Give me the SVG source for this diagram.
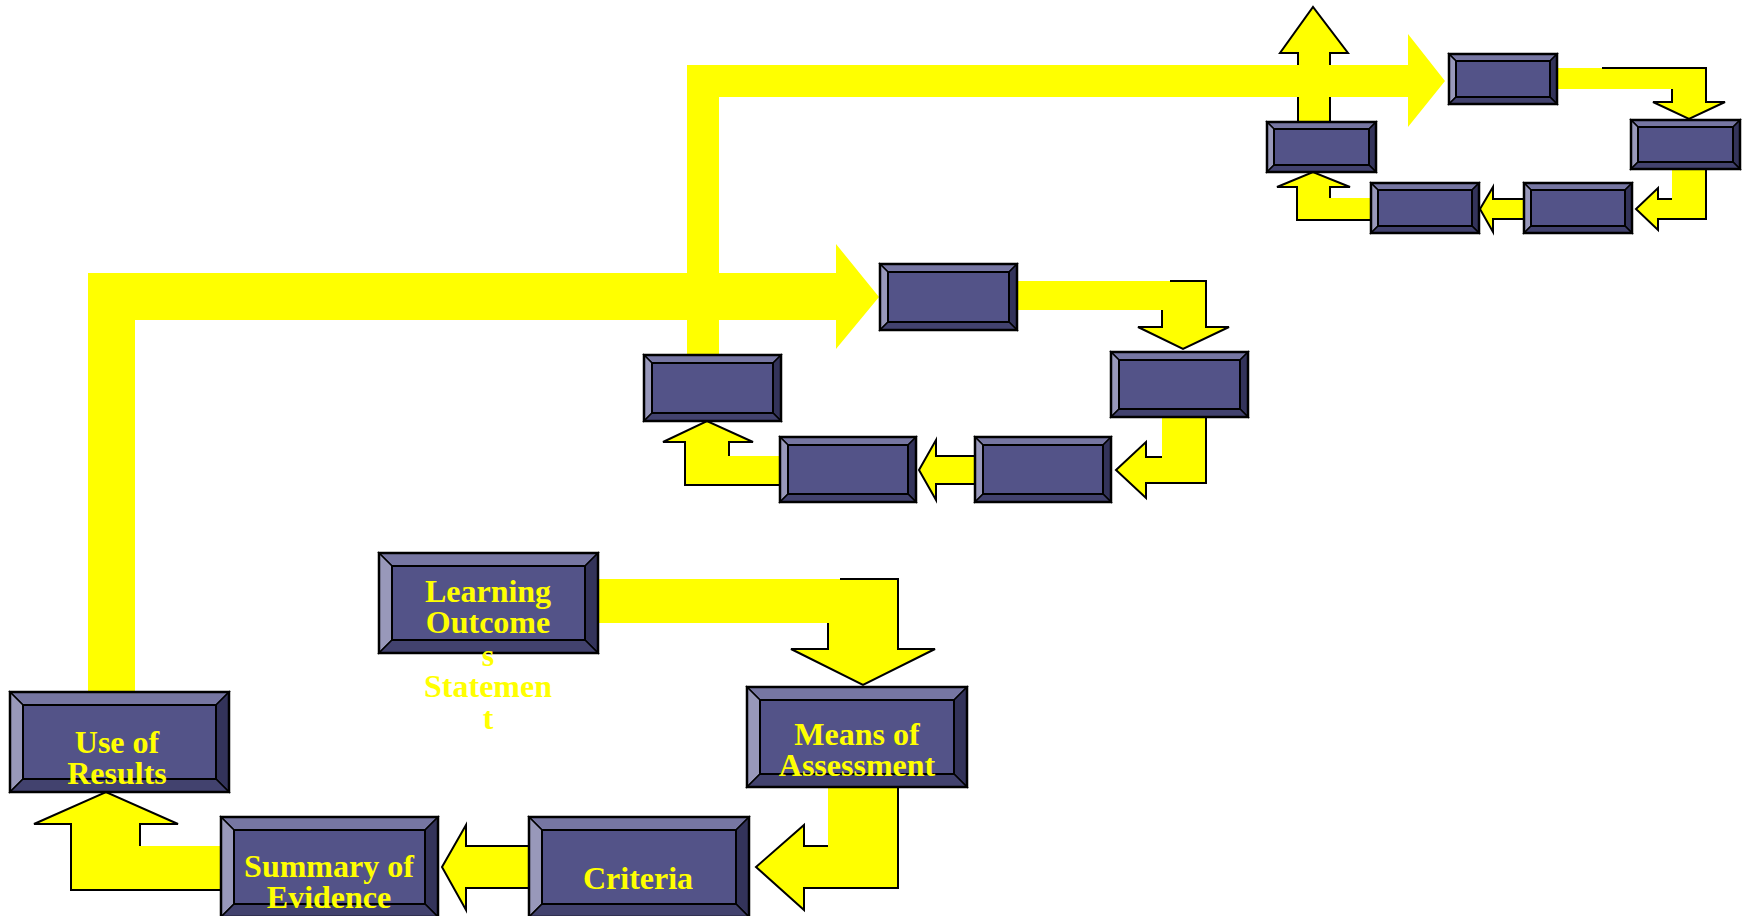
<svg xmlns="http://www.w3.org/2000/svg" width="1747" height="916" viewBox="0 0 1747 916">
<style>
.y{fill:#FFFF00;stroke:none}
.o{fill:none;stroke:#000;stroke-width:2;stroke-linejoin:miter}
.bt{fill:#7676A2;stroke:#000;stroke-width:1.5}
.bl{fill:#9898BA;stroke:#000;stroke-width:1.5}
.br{fill:#33335A;stroke:#000;stroke-width:1.5}
.bb{fill:#42426E;stroke:#000;stroke-width:1.5}
.bc{fill:#535388;stroke:#000;stroke-width:2}
.fr{fill:none;stroke:#000;stroke-width:2.5}
.t{font-family:"Liberation Serif","Times New Roman",serif;font-weight:bold;font-size:32px;fill:#FFFF00;text-anchor:middle}
</style>
<rect width="1747" height="916" fill="#fff"/>
<g id="connectors">
  <polygon class="y" points="1298,122 1298,53 1280,53 1313,7 1348,53 1330,53 1330,122"/>
  <polyline class="o" points="1298,122 1298,53 1280,53 1313,7 1348,53 1330,53 1330,122"/>
  <polygon class="y" points="1557,68 1706,68 1706,102 1725,102 1689,119 1653,102 1672,102 1672,89 1557,89"/>
  <polyline class="o" points="1602,68 1706,68 1706,102 1725,102 1689,119 1653,102 1672,102 1672,89"/>
  <polygon class="y" points="1672,169 1706,169 1706,219 1658,219 1658,230 1636,209 1658,188 1658,199 1672,199"/>
  <polyline class="o" points="1706,169 1706,219 1658,219 1658,230 1636,209 1658,188 1658,199 1672,199"/>
  <polygon class="y" points="1524,199 1493,199 1493,187 1480,209 1493,232 1493,219 1524,219"/>
  <polyline class="o" points="1524,199 1493,199 1493,187 1480,209 1493,232 1493,219 1524,219"/>
  <polygon class="y" points="1371,198 1330,198 1330,187 1350,187 1313,172 1277,187 1297,187 1297,220 1371,220"/>
  <polyline class="o" points="1330,198 1330,187 1350,187 1313,172 1277,187 1297,187 1297,220 1371,220"/>
  <polygon class="y" points="1017,281 1206,281 1206,327 1229,327 1183,349 1138,327 1162,327 1162,310 1017,310"/>
  <polyline class="o" points="1170,281 1206,281 1206,327 1229,327 1183,349 1138,327 1162,327 1162,310"/>
  <polygon class="y" points="1162,417 1206,417 1206,483 1146,483 1146,498 1116,470 1146,442 1146,457 1162,457"/>
  <polyline class="o" points="1206,417 1206,483 1146,483 1146,498 1116,470 1146,442 1146,457 1162,457"/>
  <polygon class="y" points="975,456 936,456 936,440 919,470 936,500 936,484 975,484"/>
  <polyline class="o" points="975,456 936,456 936,440 919,470 936,500 936,484 975,484"/>
  <polygon class="y" points="780,456 729,456 729,442 753,442 707,421 663,442 685,442 685,485 780,485"/>
  <polyline class="o" points="729,456 729,442 753,442 707,421 663,442 685,442 685,485 780,485"/>
  <polygon class="y" points="687,355 687,65 1408,65 1408,34 1445,81 1408,127 1408,97 719,97 719,355"/>
  <polygon class="y" points="88,692 88,273 836,273 836,244 879,297 836,349 836,320 135,320 135,692"/>
  <polygon class="y" points="598,579 898,579 898,649 935,649 863,685 791,649 828,649 828,623 598,623"/>
  <polyline class="o" points="840,579 898,579 898,649 935,649 863,685 791,649 828,649 828,623"/>
  <polygon class="y" points="828,787 898,787 898,888 804,888 804,910 756,867 804,825 804,846 828,846"/>
  <polyline class="o" points="898,787 898,888 804,888 804,910 756,867 804,825 804,846 828,846"/>
  <polygon class="y" points="529,846 466,846 466,825 442,867 466,910 466,888 529,888"/>
  <polyline class="o" points="529,846 466,846 466,825 442,867 466,910 466,888 529,888"/>
  <polygon class="y" points="221,846 140,846 140,824 178,824 106,792 34,824 71,824 71,890 221,890"/>
  <polyline class="o" points="140,846 140,824 178,824 106,792 34,824 71,824 71,890 221,890"/>
</g>
<g id="node-learning">
  <polygon class="bt" points="379,553 598,553 585,566 392,566"/>
  <polygon class="bl" points="379,553 392,566 392,640 379,653"/>
  <polygon class="br" points="598,553 598,653 585,640 585,566"/>
  <polygon class="bb" points="379,653 392,640 585,640 598,653"/>
  <rect class="bc" x="392" y="566" width="193" height="74"/>
  <rect class="fr" x="379" y="553" width="219" height="100"/>
  <text class="t" x="488" y="602">Learning</text>
  <text class="t" x="488" y="633">Outcome</text>
  <text class="t" x="488" y="666">s</text>
  <text class="t" x="488" y="697">Statemen</text>
  <text class="t" x="488" y="729">t</text>
</g>
<g id="node-means">
  <polygon class="bt" points="747,687 967,687 954,700 760,700"/>
  <polygon class="bl" points="747,687 760,700 760,774 747,787"/>
  <polygon class="br" points="967,687 967,787 954,774 954,700"/>
  <polygon class="bb" points="747,787 760,774 954,774 967,787"/>
  <rect class="bc" x="760" y="700" width="194" height="74"/>
  <rect class="fr" x="747" y="687" width="220" height="100"/>
  <text class="t" x="857" y="745">Means of</text>
  <text class="t" x="857" y="776">Assessment</text>
</g>
<g id="node-criteria">
  <polygon class="bt" points="529,817 749,817 736,830 542,830"/>
  <polygon class="bl" points="529,817 542,830 542,904 529,917"/>
  <polygon class="br" points="749,817 749,917 736,904 736,830"/>
  <polygon class="bb" points="529,917 542,904 736,904 749,917"/>
  <rect class="bc" x="542" y="830" width="194" height="74"/>
  <rect class="fr" x="529" y="817" width="220" height="100"/>
  <text class="t" x="638" y="889">Criteria</text>
</g>
<g id="node-summary">
  <polygon class="bt" points="221,817 438,817 425,830 234,830"/>
  <polygon class="bl" points="221,817 234,830 234,904 221,917"/>
  <polygon class="br" points="438,817 438,917 425,904 425,830"/>
  <polygon class="bb" points="221,917 234,904 425,904 438,917"/>
  <rect class="bc" x="234" y="830" width="191" height="74"/>
  <rect class="fr" x="221" y="817" width="217" height="100"/>
  <text class="t" x="329" y="877">Summary of</text>
  <text class="t" x="329" y="908">Evidence</text>
</g>
<g id="node-use">
  <polygon class="bt" points="10,692 229,692 216,705 23,705"/>
  <polygon class="bl" points="10,692 23,705 23,779 10,792"/>
  <polygon class="br" points="229,692 229,792 216,779 216,705"/>
  <polygon class="bb" points="10,792 23,779 216,779 229,792"/>
  <rect class="bc" x="23" y="705" width="193" height="74"/>
  <rect class="fr" x="10" y="692" width="219" height="100"/>
  <text class="t" x="117" y="753">Use of</text>
  <text class="t" x="117" y="784">Results</text>
</g>
<g id="node-m-top">
  <polygon class="bt" points="880,264 1017,264 1009,272 888,272"/>
  <polygon class="bl" points="880,264 888,272 888,322 880,330"/>
  <polygon class="br" points="1017,264 1017,330 1009,322 1009,272"/>
  <polygon class="bb" points="880,330 888,322 1009,322 1017,330"/>
  <rect class="bc" x="888" y="272" width="121" height="50"/>
  <rect class="fr" x="880" y="264" width="137" height="66"/>
</g>
<g id="node-m-right">
  <polygon class="bt" points="1111,352 1248,352 1240,360 1119,360"/>
  <polygon class="bl" points="1111,352 1119,360 1119,409 1111,417"/>
  <polygon class="br" points="1248,352 1248,417 1240,409 1240,360"/>
  <polygon class="bb" points="1111,417 1119,409 1240,409 1248,417"/>
  <rect class="bc" x="1119" y="360" width="121" height="49"/>
  <rect class="fr" x="1111" y="352" width="137" height="65"/>
</g>
<g id="node-m-bottom-right">
  <polygon class="bt" points="975,437 1111,437 1103,445 983,445"/>
  <polygon class="bl" points="975,437 983,445 983,494 975,502"/>
  <polygon class="br" points="1111,437 1111,502 1103,494 1103,445"/>
  <polygon class="bb" points="975,502 983,494 1103,494 1111,502"/>
  <rect class="bc" x="983" y="445" width="120" height="49"/>
  <rect class="fr" x="975" y="437" width="136" height="65"/>
</g>
<g id="node-m-bottom-left">
  <polygon class="bt" points="780,437 916,437 908,445 788,445"/>
  <polygon class="bl" points="780,437 788,445 788,494 780,502"/>
  <polygon class="br" points="916,437 916,502 908,494 908,445"/>
  <polygon class="bb" points="780,502 788,494 908,494 916,502"/>
  <rect class="bc" x="788" y="445" width="120" height="49"/>
  <rect class="fr" x="780" y="437" width="136" height="65"/>
</g>
<g id="node-m-left">
  <polygon class="bt" points="644,355 781,355 773,363 652,363"/>
  <polygon class="bl" points="644,355 652,363 652,413 644,421"/>
  <polygon class="br" points="781,355 781,421 773,413 773,363"/>
  <polygon class="bb" points="644,421 652,413 773,413 781,421"/>
  <rect class="bc" x="652" y="363" width="121" height="50"/>
  <rect class="fr" x="644" y="355" width="137" height="66"/>
</g>
<g id="node-t-top">
  <polygon class="bt" points="1449,54 1557,54 1550,61 1456,61"/>
  <polygon class="bl" points="1449,54 1456,61 1456,97 1449,104"/>
  <polygon class="br" points="1557,54 1557,104 1550,97 1550,61"/>
  <polygon class="bb" points="1449,104 1456,97 1550,97 1557,104"/>
  <rect class="bc" x="1456" y="61" width="94" height="36"/>
  <rect class="fr" x="1449" y="54" width="108" height="50"/>
</g>
<g id="node-t-right">
  <polygon class="bt" points="1631,120 1740,120 1733,127 1638,127"/>
  <polygon class="bl" points="1631,120 1638,127 1638,162 1631,169"/>
  <polygon class="br" points="1740,120 1740,169 1733,162 1733,127"/>
  <polygon class="bb" points="1631,169 1638,162 1733,162 1740,169"/>
  <rect class="bc" x="1638" y="127" width="95" height="35"/>
  <rect class="fr" x="1631" y="120" width="109" height="49"/>
</g>
<g id="node-t-bottom-right">
  <polygon class="bt" points="1524,183 1632,183 1625,190 1531,190"/>
  <polygon class="bl" points="1524,183 1531,190 1531,226 1524,233"/>
  <polygon class="br" points="1632,183 1632,233 1625,226 1625,190"/>
  <polygon class="bb" points="1524,233 1531,226 1625,226 1632,233"/>
  <rect class="bc" x="1531" y="190" width="94" height="36"/>
  <rect class="fr" x="1524" y="183" width="108" height="50"/>
</g>
<g id="node-t-bottom-left">
  <polygon class="bt" points="1371,183 1479,183 1472,190 1378,190"/>
  <polygon class="bl" points="1371,183 1378,190 1378,226 1371,233"/>
  <polygon class="br" points="1479,183 1479,233 1472,226 1472,190"/>
  <polygon class="bb" points="1371,233 1378,226 1472,226 1479,233"/>
  <rect class="bc" x="1378" y="190" width="94" height="36"/>
  <rect class="fr" x="1371" y="183" width="108" height="50"/>
</g>
<g id="node-t-left">
  <polygon class="bt" points="1267,122 1376,122 1369,129 1274,129"/>
  <polygon class="bl" points="1267,122 1274,129 1274,165 1267,172"/>
  <polygon class="br" points="1376,122 1376,172 1369,165 1369,129"/>
  <polygon class="bb" points="1267,172 1274,165 1369,165 1376,172"/>
  <rect class="bc" x="1274" y="129" width="95" height="36"/>
  <rect class="fr" x="1267" y="122" width="109" height="50"/>
</g>
</svg>
